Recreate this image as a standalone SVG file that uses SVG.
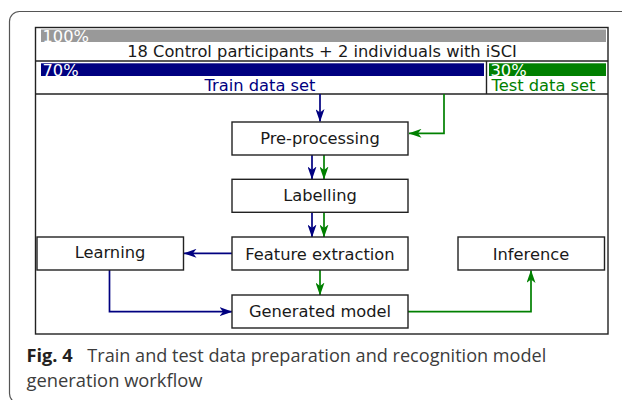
<svg xmlns="http://www.w3.org/2000/svg" width="622" height="400" viewBox="0 0 622 400">
<defs>
<marker id="ab" viewBox="0 0 13 9" refX="12.5" refY="4.5" markerWidth="13" markerHeight="9" markerUnits="userSpaceOnUse" orient="auto">
<path d="M0,0 L13,4.5 L0,9 L3.5,4.5 Z" fill="#000080"/>
</marker>
<marker id="ag" viewBox="0 0 13 9" refX="12.5" refY="4.5" markerWidth="13" markerHeight="9" markerUnits="userSpaceOnUse" orient="auto">
<path d="M0,0 L13,4.5 L0,9 L3.5,4.5 Z" fill="#008000"/>
</marker>
<style>
.t{font-family:"DejaVu Sans",Verdana,sans-serif;font-size:16.3px;fill:#1a1a1a}
.box{fill:#fff;stroke:#222;stroke-width:1.4}
.b{fill:none;stroke:#000080;stroke-width:1.7}
.g{fill:none;stroke:#008000;stroke-width:1.7}
.cap{font-family:"Open Sans","Noto Sans",sans-serif;font-size:18.2px;fill:#3c3c3c}
.ln{stroke:#222;stroke-width:1.4}
</style>
</defs>
<rect width="622" height="400" fill="#fff"/>
<rect x="9.5" y="11.5" width="640" height="392" rx="10" fill="none" stroke="#555" stroke-width="1.2"/>
<g id="frame">
<rect x="35.5" y="27.5" width="572.5" height="306.5" fill="#fff" stroke="#222" stroke-width="1.4"/>
<line class="ln" x1="35.5" y1="61" x2="608" y2="61"/>
<line class="ln" x1="35.5" y1="94" x2="608" y2="94"/>
<line class="ln" x1="486.5" y1="61" x2="486.5" y2="94"/>
</g>
<g id="all-data">
<rect x="41" y="29.5" width="565" height="12.5" fill="#999"/>
<text x="42.5" y="41.5" class="t" style="fill:#fff">100%</text>
<text x="322" y="56.7" class="t" text-anchor="middle">18 Control participants + 2 individuals with iSCI</text>
</g>
<g id="train-set">
<rect x="41" y="63.3" width="443" height="12.7" fill="#000080"/>
<text x="42.5" y="75.7" class="t" style="fill:#fff">70%</text>
<text x="260" y="91" class="t" text-anchor="middle" style="fill:#000080">Train data set</text>
</g>
<g id="test-set">
<rect x="489" y="63.3" width="117" height="12.7" fill="#008000"/>
<text x="490.5" y="75.7" class="t" style="fill:#fff">30%</text>
<text x="491.5" y="91" class="t" style="fill:#008000">Test data set</text>
</g>
<g id="connectors">
<path class="b" d="M320,94 V121.5" marker-end="url(#ab)"/>
<path class="g" d="M444,94 V133.3 H409" marker-end="url(#ag)"/>
<path class="b" d="M312,155 V179" marker-end="url(#ab)"/>
<path class="g" d="M324,155 V179" marker-end="url(#ag)"/>
<path class="b" d="M312,212 V237" marker-end="url(#ab)"/>
<path class="g" d="M324,212 V237" marker-end="url(#ag)"/>
<path class="b" d="M232,253.3 H184" marker-end="url(#ab)"/>
<path class="g" d="M320,270 V295" marker-end="url(#ag)"/>
<path class="b" d="M109.5,270 V311.7 H232" marker-end="url(#ab)"/>
<path class="g" d="M408,311.7 H531 V270.5" marker-end="url(#ag)"/>
</g>
<g id="preprocessing">
<rect class="box" x="232" y="122" width="176" height="33"/>
<text x="320" y="144" class="t" text-anchor="middle">Pre-processing</text>
</g>
<g id="labelling">
<rect class="box" x="232" y="179.3" width="176" height="33"/>
<text x="320" y="201.3" class="t" text-anchor="middle">Labelling</text>
</g>
<g id="feature-extraction">
<rect class="box" x="232" y="237" width="176" height="33"/>
<text x="320" y="259.5" class="t" text-anchor="middle">Feature extraction</text>
</g>
<g id="learning">
<rect class="box" x="37" y="237" width="146.5" height="33"/>
<text x="110" y="258" class="t" text-anchor="middle">Learning</text>
</g>
<g id="inference">
<rect class="box" x="458" y="237" width="146.5" height="33"/>
<text x="531" y="259.5" class="t" text-anchor="middle">Inference</text>
</g>
<g id="generated-model">
<rect class="box" x="232" y="295" width="176" height="33"/>
<text x="320" y="317.3" class="t" text-anchor="middle">Generated model</text>
</g>
<g id="caption">
<text x="26.5" y="361.5" class="cap"><tspan font-weight="bold" fill="#231f20">Fig. 4</tspan><tspan x="87.3" textLength="459" lengthAdjust="spacingAndGlyphs">Train and test data preparation and recognition model</tspan></text>
<text x="26.5" y="387" class="cap" textLength="176" lengthAdjust="spacingAndGlyphs">generation workflow</text>
</g>
</svg>
